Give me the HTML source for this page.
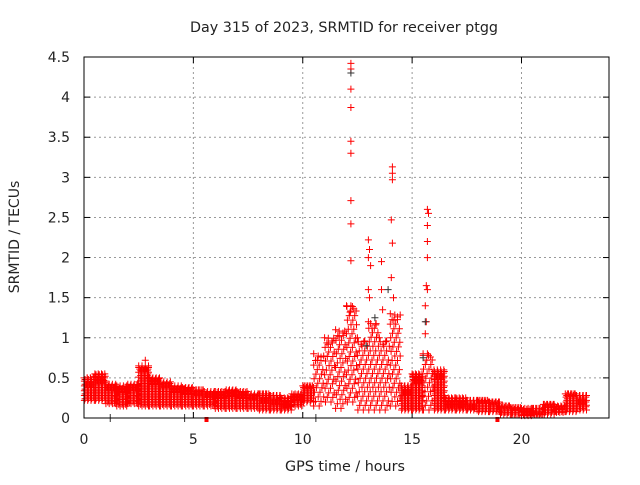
<!DOCTYPE html>
<html><head><meta charset="utf-8"><style>
body{margin:0;background:#fff;}
svg text{font-family:"DejaVu Sans","Liberation Sans",sans-serif;font-size:14px;fill:#222;}
</style></head><body>
<svg id="chart" width="640" height="480" viewBox="0 0 640 480" xmlns="http://www.w3.org/2000/svg">
<rect width="640" height="480" fill="#fff"/>
<g id="grid"></g>
<g id="ticks"></g>
<g id="marks"></g>
<rect x="84" y="57" width="525" height="361" fill="none" stroke="#000" stroke-width="1"/>
<text x="190" y="32" textLength="308" lengthAdjust="spacingAndGlyphs">Day 315 of 2023, SRMTID for receiver ptgg</text>
<text x="285" y="471" textLength="120" lengthAdjust="spacingAndGlyphs">GPS time / hours</text>
<text transform="translate(19,237) rotate(-90)" text-anchor="middle">SRMTID / TECUs</text>
</svg>
<script>
const xTicks=[0,5,10,15,20];
const yTicks=[0,0.5,1,1.5,2,2.5,3,3.5,4,4.5];
const yTickLabels=["0","0.5","1","1.5","2","2.5","3","3.5","4","4.5"];
const binStart=[0,0.5,1,1.5,2,2.5,3,3.5,4,4.5,5,5.5,6,6.5,7,7.5,8,8.5,9,9.5,10,10.5,11,11.5,12,12.5,13,13.5,14,14.5,15,15.5,16,16.5,17,17.5,18,18.5,19,19.5,20,20.5,21,21.5,22,22.5];
const bandLo=[0.22,0.22,0.18,0.15,0.18,0.15,0.15,0.15,0.15,0.15,0.15,0.15,0.12,0.12,0.12,0.12,0.1,0.1,0.1,0.15,0.2,0.15,0.2,0.12,0.2,0.1,0.1,0.1,0.15,0.1,0.1,0.1,0.1,0.1,0.1,0.1,0.08,0.08,0.05,0.05,0.03,0.04,0.05,0.08,0.08,0.1];
const bandHi=[0.5,0.55,0.42,0.4,0.42,0.65,0.5,0.45,0.4,0.38,0.35,0.33,0.33,0.35,0.33,0.3,0.3,0.28,0.25,0.3,0.4,0.8,1.0,1.1,1.4,1.0,1.2,1.0,1.3,0.4,0.55,0.8,0.6,0.25,0.25,0.22,0.22,0.2,0.15,0.13,0.12,0.12,0.17,0.15,0.3,0.28];
const spikeT=[2.8,12.2,12.2,12.2,12.2,12.2,12.2,12.2,12.2,12.2,12.2,13.0,13.05,13.0,13.1,13.0,13.05,13.6,13.6,13.65,14.1,14.1,14.1,14.05,14.1,14.05,14.15,15.7,15.75,15.7,15.7,15.7,15.65,15.7,15.6,15.65,15.6,15.7];
const spikeV=[0.72,4.42,4.35,4.1,3.87,3.45,3.3,2.71,2.42,1.96,1.4,2.22,2.1,2.0,1.9,1.6,1.5,1.95,1.6,1.35,3.13,3.05,2.97,2.47,2.18,1.75,1.5,2.6,2.55,2.4,2.2,2.0,1.65,1.6,1.4,1.2,1.05,0.8];
const darkT=[12.2,13.9,15.6,15.5,12.9,13.3];
const darkV=[4.3,1.6,1.2,0.75,0.9,1.25];
const X0=84,X1=609,Y0=418,Y1=57,XMAX=24,YMAX=4.5;
const xs=t=>X0+(X1-X0)*t/XMAX, ys=v=>Y0-(Y0-Y1)*v/YMAX;
const NS="http://www.w3.org/2000/svg";
const grid=document.getElementById('grid'),ticks=document.getElementById('ticks'),marks=document.getElementById('marks');
function mk(tag,attrs,parent){const e=document.createElementNS(NS,tag);for(const k in attrs)e.setAttribute(k,attrs[k]);parent.appendChild(e);return e;}
xTicks.forEach(t=>{const x=xs(t);
 if(t>0){const g=mk('line',{x1:x,x2:x,y1:Y1,y2:Y0,stroke:'#999','stroke-dasharray':'2,3'},grid);
 
 }
 mk('line',{x1:x,x2:x,y1:Y0,y2:Y0-6,stroke:'#000'},ticks);mk('line',{x1:x,x2:x,y1:Y1,y2:Y1+6,stroke:'#000'},ticks);
 const l=mk('text',{x:x,y:Y0+26,'text-anchor':'middle'},ticks);l.textContent=t;
 
 });
yTicks.forEach((v,i)=>{const y=ys(v);
 if(v>0&&v<YMAX){const g=mk('line',{x1:X0,x2:X1,y1:y,y2:y,stroke:'#999','stroke-dasharray':'2,3'},grid);
 
 }
 mk('line',{x1:X0,x2:X0+6,y1:y,y2:y,stroke:'#000'},ticks);mk('line',{x1:X1,x2:X1-6,y1:y,y2:y,stroke:'#000'},ticks);
 const l=mk('text',{x:X0-14,y:y+5,'text-anchor':'end'},ticks);l.textContent=yTickLabels[i];
 
 });
function plus(x,y){return `M${(x-3.5).toFixed(1)} ${y.toFixed(1)}h7M${x.toFixed(1)} ${(y-3.5).toFixed(1)}v7`;}
let d='';
binStart.forEach((t0,i)=>{const lo=bandLo[i],hi=bandHi[i];const span=hi-lo;
 const storm=span>0.6;
 const vstep=storm?0.17:0.06;
 const nT=storm?6:10, dt=0.5/nT;
 for(let k=0;k<nT;k++){const t=t0+k*dt;const off=(k%3)*vstep/3;
  for(let v=lo+off;v<=hi;v+=vstep){d+=plus(xs(t+((Math.round(v*100))%3)*0.02),ys(v));}
  if(!storm||k%2==0)d+=plus(xs(t),ys(hi-(k%3)*0.04));}
});
spikeT.forEach((t,i)=>{d+=plus(xs(t),ys(spikeV[i]));});
const p=mk('path',{d:d,stroke:'#f00','stroke-width':1,fill:'none'},marks);


let dd='';darkT.forEach((t,i)=>{dd+=plus(xs(t),ys(darkV[i]));});
const q=mk('path',{d:dd,stroke:'#333','stroke-width':1,fill:'none'},marks);


[1.2,4.6,10.6].forEach(t=>{mk('line',{x1:xs(t),x2:xs(t),y1:Y0-4,y2:Y0+4,stroke:'#333'},marks);});
[5.6,18.9].forEach(t=>{mk('rect',{x:xs(t)-2,y:Y0-1,width:4,height:5,fill:'#f00'},marks);});
</script>
</body></html>
